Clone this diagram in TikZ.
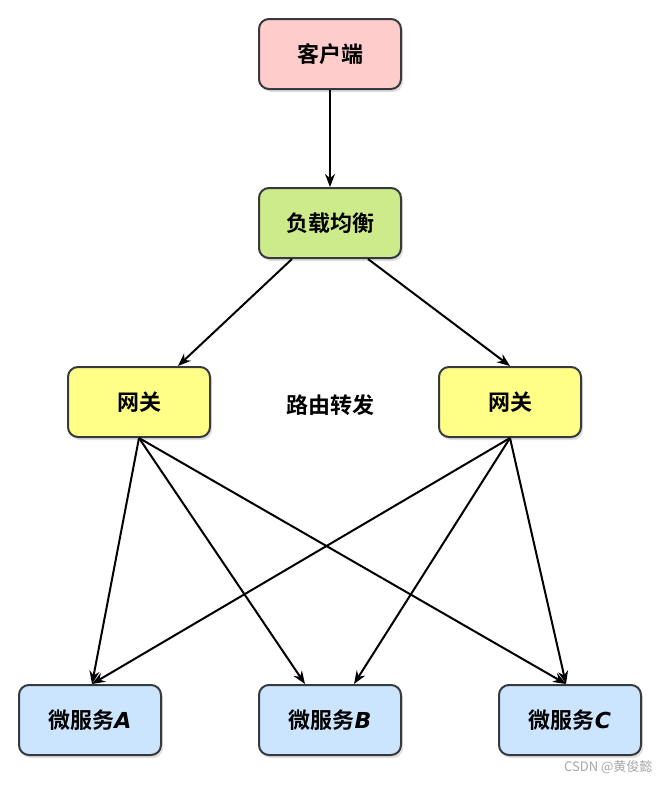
\documentclass[tikz,border=0pt]{standalone}
\usepackage{fontspec}
\setmainfont{Noto Sans CJK SC}[BoldFont={Noto Sans CJK SC Bold}]
\newfontfamily\latinbi{DejaVu Sans}
\usetikzlibrary{arrows.meta,shadows}

\definecolor{clientfill}{HTML}{FFCCCC}
\definecolor{lbfill}{HTML}{CDEB8B}
\definecolor{gwfill}{HTML}{FFFF88}
\definecolor{svcfill}{HTML}{CCE5FF}
\definecolor{boxline}{HTML}{36393D}

\tikzset{
  box/.style={draw=boxline, line width=2pt, rounded corners=10pt,
    minimum width=142pt, minimum height=70pt, inner sep=0pt,
    font=\fontsize{22}{26}\selectfont\bfseries,
    drop shadow={opacity=0.25, shadow xshift=2pt, shadow yshift=-3pt}},
  link/.style={-{Stealth[length=13pt,width=10pt]}, line width=2pt, black}
}

\newcommand{\svcletter}[1]{{\latinbi\bfseries\itshape #1}}

\begin{document}
\begin{tikzpicture}[x=1pt,y=1pt]
    \useasboundingbox (0,0) rectangle (670,-785);

    % Boxes
    \node[box, fill=clientfill] (client) at (330,-54) {客户端};
    \node[box, fill=lbfill] (lb) at (330,-223) {负载均衡};
    \node[box, fill=gwfill] (gwL) at (139,-402) {网关};
    \node[box, fill=gwfill] (gwR) at (510,-402) {网关};
    \node[box, fill=svcfill] (svcA) at (90,-720) {微服务\svcletter{A}};
    \node[box, fill=svcfill] (svcB) at (330,-720) {微服务\svcletter{B}};
    \node[box, fill=svcfill] (svcC) at (570,-720) {微服务\svcletter{C}};

    % Label between the gateways
    \node[font=\fontsize{22}{26}\selectfont\bfseries] (route) at (330,-405) {路由转发};

    % Client to load balancer to gateways
    \draw[link] (client.south) -- (lb.north);
    \draw[link] ([xshift=-38pt]lb.south) -- ([xshift=39pt]gwL.north);
    \draw[link] ([xshift=38pt]lb.south) -- ([xshift=0pt]gwR.north);

    % Gateways to services
    \draw[link] (gwL.south) -- ([xshift=2pt]svcA.north);
    \draw[link] (gwL.south) -- ([xshift=-25pt]svcB.north);
    \draw[link] (gwL.south) -- ([xshift=-4pt]svcC.north);
    \draw[link] (gwR.south) -- ([xshift=2pt]svcA.north);
    \draw[link] (gwR.south) -- ([xshift=24pt]svcB.north);
    \draw[link] (gwR.south) -- ([xshift=-4pt]svcC.north);

    % Watermark
    \node[anchor=east, text=black!35, font=\fontsize{13}{15}\selectfont] (mark) at (656,-767) {CSDN @黄俊懿};
\end{tikzpicture}
\end{document}
